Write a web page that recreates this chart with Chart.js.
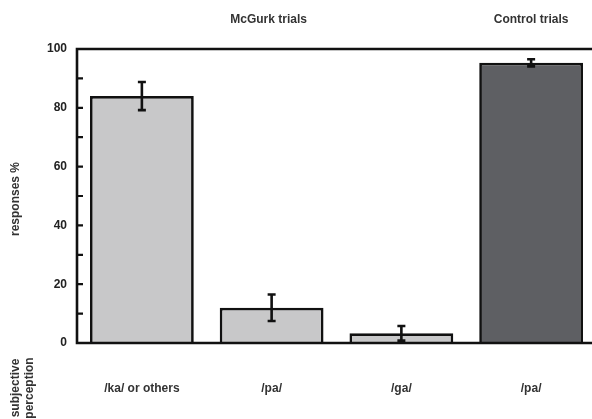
<!DOCTYPE html>
<html>
<head>
<meta charset="utf-8">
<script src="https://cdn.jsdelivr.net/npm/chart.js@4"></script>
<style>
  html, body { margin: 0; padding: 0; background: #fff; overflow: hidden; }
  #wrap { width: 600px; height: 419px; position: relative; }
</style>
</head>
<body>
<div id="wrap"><canvas id="c" width="600" height="419"></canvas></div>
<script>
// Response categories and their percentages with error bars
const categories = ['/ka/ or others', '/pa/', '/ga/', '/pa/'];
const responses = [84, 12, 3.3, 95.3];
const errors = [4.8, 4.5, 2.5, 1.2];
const barColors = ['#c8c8c9', '#c8c8c9', '#c8c8c9', '#5e5f63'];
const groupLabels = ['McGurk trials', 'Control trials'];
const groupCenters = [1, 3]; // category index each group heading sits over
const yTicks = [0, 20, 40, 60, 80, 100];

const FONT = '"Liberation Sans", Arial, sans-serif';

// Axis frame, inward ticks, error bars and header/side texts
const decorations = {
  id: 'decorations',
  afterDatasetsDraw(chart) {
    const { ctx, chartArea: a, scales: { x, y } } = chart;
    ctx.save();
    // error bars
    ctx.strokeStyle = '#111';
    ctx.lineWidth = 2.6;
    responses.forEach((v, i) => {
      const cx = x.getPixelForValue(i);
      const yt = y.getPixelForValue(v + errors[i]);
      const yb = y.getPixelForValue(Math.max(0, v - errors[i]));
      ctx.beginPath();
      ctx.moveTo(cx, yt); ctx.lineTo(cx, yb);
      ctx.moveTo(cx - 4, yt); ctx.lineTo(cx + 4, yt);
      ctx.moveTo(cx - 4, yb); ctx.lineTo(cx + 4, yb);
      ctx.stroke();
    });
    // frame: left, top and bottom lines
    ctx.lineWidth = 2.6;
    ctx.beginPath();
    ctx.moveTo(a.left, a.top); ctx.lineTo(a.left, a.bottom);
    ctx.moveTo(a.left - 1.3, a.top); ctx.lineTo(chart.width, a.top);
    ctx.moveTo(a.left - 1.3, a.bottom); ctx.lineTo(chart.width, a.bottom);
    ctx.stroke();
    // inward ticks every 10
    ctx.lineWidth = 2.2;
    ctx.beginPath();
    for (let t = 10; t < 100; t += 10) {
      const py = y.getPixelForValue(t);
      ctx.moveTo(a.left, py); ctx.lineTo(a.left + 6, py);
    }
    ctx.stroke();
    // group headings
    ctx.fillStyle = '#333';
    ctx.font = 'bold 12px ' + FONT;
    ctx.textAlign = 'center';
    ctx.textBaseline = 'middle';
    groupLabels.forEach((t, i) => {
      ctx.fillText(t, x.getPixelForValue(groupCenters[i]) - (i === 0 ? 3 : 0), 20);
    });
    // y axis title
    ctx.save();
    ctx.translate(16, 199);
    ctx.rotate(-Math.PI / 2);
    ctx.fillText('responses %', 0, 0);
    ctx.restore();
    // row label beside the category names
    ctx.save();
    ctx.translate(23, 388);
    ctx.rotate(-Math.PI / 2);
    ctx.fillText('subjective', 0, -7);
    ctx.fillText('perception', 0, 7);
    ctx.restore();
    ctx.restore();
  }
};

new Chart(document.getElementById('c'), {
  type: 'bar',
  data: {
    labels: categories,
    datasets: [{
      data: responses,
      backgroundColor: barColors,
      borderColor: '#111',
      borderWidth: 2.7,
      barPercentage: 0.8,
      categoryPercentage: 1.0
    }]
  },
  options: {
    responsive: false,
    animation: false,
    events: [],
    layout: { padding: { top: 49, right: 4, left: 0, bottom: 0 } },
    plugins: { legend: { display: false }, tooltip: { enabled: false } },
    scales: {
      x: {
        grid: { display: false, drawTicks: false },
        border: { display: false },
        ticks: {
          color: '#333',
          font: { family: FONT, size: 12, weight: 'bold' },
          padding: 38,
          maxRotation: 0
        },
        afterFit(s) { s.height = 76; }
      },
      y: {
        min: 0, max: 100,
        afterBuildTicks(s) { s.ticks = yTicks.map(v => ({ value: v })); },
        grid: { display: false, drawTicks: false },
        border: { display: false },
        ticks: {
          color: '#222',
          font: { family: FONT, size: 12, weight: 'bold' },
          padding: 10
        },
        afterFit(s) { s.width = 77; }
      }
    }
  },
  plugins: [decorations]
});
</script>
</body>
</html>
